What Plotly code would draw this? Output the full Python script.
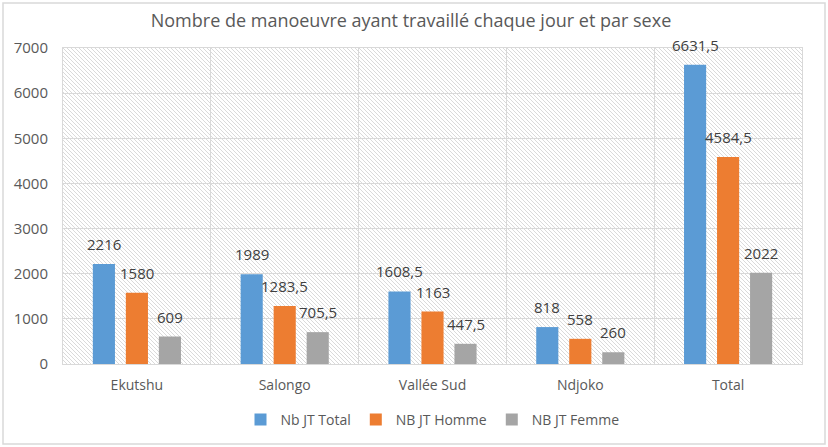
import base64
import plotly.graph_objects as go

categories = ["Ekutshu", "Salongo", "Vallée Sud", "Ndjoko", "Total"]
nb_total = [2216, 1989, 1608.5, 818, 6631.5]
nb_homme = [1580, 1283.5, 1163, 558, 4584.5]
nb_femme = [609, 705.5, 447.5, 260, 2022]
series_names = ["Nb JT Total", "NB JT Homme", "NB JT Femme"]
series_colors = ["#5B9BD5", "#ED7D31", "#A5A5A5"]
y_ticks = [0, 1000, 2000, 3000, 4000, 5000, 6000, 7000]
title_text = "Nombre de manoeuvre ayant travaillé chaque jour et par sexe"

W, H = 828, 447
ML, MR, MT, MB = 63, 26, 48, 83
PW, PH = W - ML - MR, H - MT - MB
BARGAP = 0.33


def fmt(v):
    if float(v).is_integer():
        return str(int(v))
    return str(v).replace(".", ",")


FONT = "Open Sans"

fig = go.Figure()
all_series = [nb_total, nb_homme, nb_femme]
for name, vals, col in zip(series_names, all_series, series_colors):
    fig.add_trace(go.Bar(
        x=categories, y=vals, name=name,
        marker=dict(color=col, line=dict(width=0)),
        hoverinfo="skip",
    ))

# value labels above the bars (placed on the category axis)
slot = (1 - BARGAP) / 3
for si, vals in enumerate(all_series):
    for ci, v in enumerate(vals):
        fig.add_annotation(x=ci + (si - 1) * slot, y=v, text=fmt(v),
                           showarrow=False, yanchor="bottom", yshift=8,
                           font=dict(family=FONT, size=15, color="#404040"))

# hatched plot-area background
svg = (
    f'<svg xmlns="http://www.w3.org/2000/svg" width="{PW}" height="{PH}">'
    '<defs><pattern id="h" width="4" height="4" patternUnits="userSpaceOnUse">'
    '<path d="M-1,-1 L5,5 M-1,3 L1,5 M3,-1 L5,1" stroke="#d6d6d6" stroke-width="0.9"/>'
    '</pattern></defs>'
    f'<rect width="{PW}" height="{PH}" fill="#ffffff"/>'
    f'<rect width="{PW}" height="{PH}" fill="url(#h)"/></svg>'
)
src = "data:image/svg+xml;base64," + base64.b64encode(svg.encode()).decode()
fig.add_layout_image(dict(source=src, xref="paper", yref="paper", x=0, y=1,
                          sizex=1, sizey=1, sizing="stretch", layer="below",
                          xanchor="left", yanchor="top"))

# outer chart border
fig.add_shape(type="rect", xref="paper", yref="paper",
              x0=(3 - ML) / PW, x1=(825 - ML) / PW,
              y0=-(444 - MT - PH) / PH, y1=1 + (MT - 3) / PH,
              line=dict(color="#d9d9d9", width=1.5), fillcolor="rgba(0,0,0,0)", layer="below")

fig.update_layout(
    template="none",
    width=W, height=H,
    margin=dict(l=ML, r=MR, t=MT, b=MB, autoexpand=False),
    paper_bgcolor="white", plot_bgcolor="rgba(0,0,0,0)",
    barmode="group", bargap=BARGAP, bargroupgap=0.33,
    title=dict(text=title_text, x=411 / W, xref="container", xanchor="center",
               y=1 - 21 / H, yref="container", yanchor="middle",
               font=dict(family=FONT, size=18, color="#595959")),
    font=dict(family=FONT, color="#595959"),
    showlegend=True,
    hovermode=False,
    legend=dict(orientation="h", x=0.5, xanchor="center", y=-(420 - MT - PH) / PH,
                yanchor="middle", font=dict(family=FONT, size=14, color="#595959"),
                bgcolor="rgba(0,0,0,0)"),
    xaxis=dict(tickson="boundaries", showgrid=True, gridcolor="#d9d9d9", gridwidth=1,
               ticks="", ticklabelstandoff=8,
               showline=True, linecolor="#d9d9d9", mirror=True,
               automargin=False,
               tickfont=dict(family=FONT, size=14, color="#595959")),
    yaxis=dict(range=[0, 7000], tickvals=y_ticks, ticktext=[str(t) for t in y_ticks],
               showgrid=True, gridcolor="#d9d9d9", gridwidth=1,
               showline=True, linecolor="#d9d9d9", mirror=True, zeroline=False,
               automargin=False,
               ticks="outside", ticklen=11, tickcolor="rgba(0,0,0,0)",
               tickfont=dict(family=FONT, size=15, color="#595959")),
)

fig.write_html("out.html", config={"displayModeBar": False},
               post_script="document.body.style.margin='0px';")
